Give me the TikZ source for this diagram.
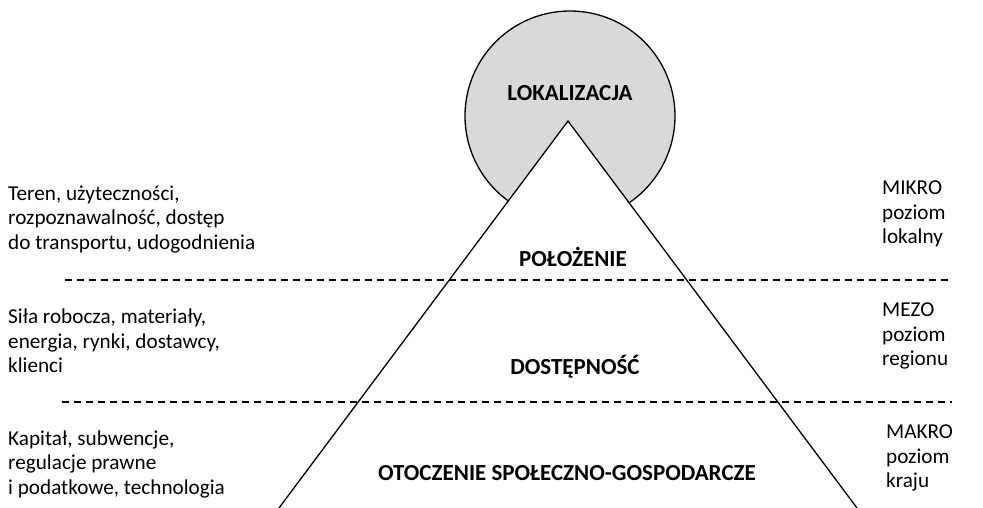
\documentclass[tikz,border=0pt]{standalone}
\usepackage{fontspec}
\setmainfont{Carlito}
\usepackage{xcolor}
\usetikzlibrary{positioning}
\definecolor{LokGrey}{HTML}{D9D9D9}

\begin{document}
\begin{tikzpicture}[
  x=1pt,y=-1pt,
  level/.style={font=\fontsize{23}{26}\selectfont\bfseries,inner sep=0pt},
  factors/.style={align=left,anchor=west,inner sep=0pt,font=\fontsize{21.2}{24.5}\selectfont},
  scale label/.style={factors},
  edge/.style={line width=1.3pt,draw=black},
  divider/.style={line width=1.3pt,dash pattern=on 7pt off 5pt}
]
  \useasboundingbox (0,0) rectangle (983,508);
  % circle behind the pyramid
  \filldraw[fill=LokGrey,edge] (570,116) circle (105);
  \node[level] (lok) at (570,93) {LOKALIZACJA};
  % pyramid
  \coordinate (apex) at (568,121);
  \coordinate (baseL) at (279,508);
  \coordinate (baseR) at (857,508);
  \filldraw[fill=white,edge] (baseL) -- (apex) -- (baseR);
  % dividers
  \coordinate (d1a) at (65,280);
  \coordinate (d1b) at (952,280);
  \coordinate (d2a) at (62,402);
  \coordinate (d2b) at (952,402);
  \draw[divider] (d1a) -- (d1b);
  \draw[divider] (d2a) -- (d2b);
  % level names
  \node[level] (pol) at (573,257) {POŁOŻENIE};
  \node[level] (dost) at (575,367) {DOSTĘPNOŚĆ};
  \node[level] (otocz) at (567,473) {OTOCZENIE SPOŁECZNO-GOSPODARCZE};
  % factors, left
  \node[factors] (f1) at (8,219) {Teren, użyteczności,\\rozpoznawalność, dostęp\\do transportu, udogodnienia};
  \node[factors] (f2) at (8,341) {Siła robocza, materiały,\\energia, rynki, dostawcy,\\klienci};
  \node[factors] (f3) at (8,464) {Kapitał, subwencje,\\regulacje prawne\\i podatkowe, technologia};
  % scale, right
  \node[scale label] (s1) at (882,214) {MIKRO\\poziom\\lokalny};
  \node[scale label] (s2) at (882,336) {MEZO\\poziom\\regionu};
  \node[scale label] (s3) at (886,458) {MAKRO\\poziom\\kraju};
\end{tikzpicture}
\end{document}
